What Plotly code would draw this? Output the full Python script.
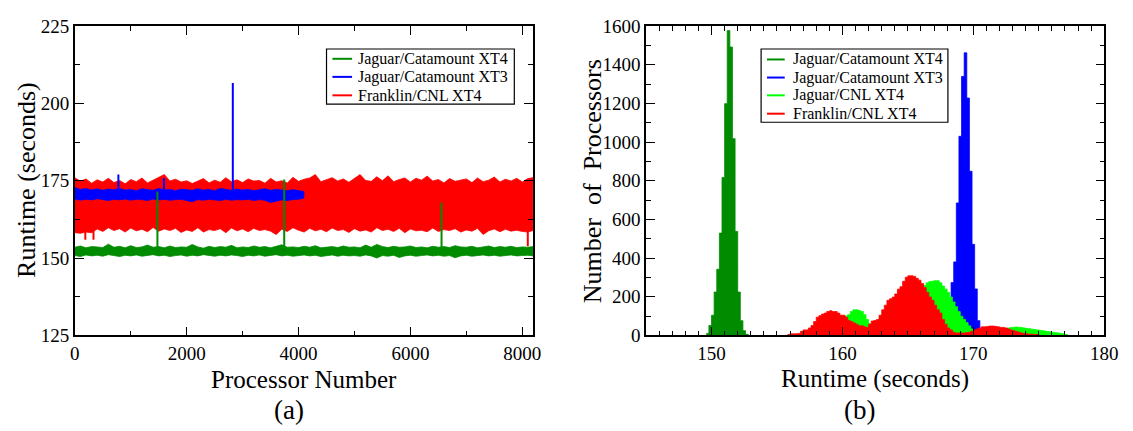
import plotly.graph_objects as go

# ---------------- Panel (a): runtime per processor ----------------
# per-block (100 processors) maximum / minimum runtime
proc_blocks = list(range(0, 8200, 100)) + [8191]
franklin_max = [
    176.0, 174.8, 175.6, 174.2, 175.3, 174.6, 175.8, 174.4, 175.1, 174.0,
    175.4, 174.7, 175.9, 174.3, 175.2, 176.2, 177.0, 174.9, 175.5, 174.6,
    175.0, 174.1, 174.8, 175.7, 174.3, 175.2, 174.5, 176.0, 174.7, 175.3,
    174.4, 175.6, 174.9, 175.1, 174.2, 175.8, 174.6, 175.0, 174.3, 176.1,
    174.8, 175.5, 175.9, 177.0, 174.7, 175.3, 176.0, 174.9, 175.6, 174.5,
    175.7, 177.0, 175.1, 174.8, 176.3, 175.0, 176.6, 174.7, 175.4, 175.9,
    174.6, 175.8, 175.2, 176.5, 174.9, 175.4, 174.3, 175.7, 174.8, 175.2,
    175.6, 174.4, 175.9, 174.7, 175.2, 176.2, 174.6, 175.5, 174.9, 175.8,
    174.6, 175.7, 176.0]
franklin_min = [
    158.2, 158.0, 158.4, 158.2, 159.4, 158.6, 159.8, 158.9, 159.5, 158.4,
    159.7, 158.8, 159.3, 158.5, 159.9, 158.7, 159.4, 158.9, 159.6, 158.3,
    159.1, 158.6, 159.8, 158.4, 159.2, 158.9, 159.5, 158.2, 159.7, 158.8,
    159.4, 158.5, 159.6, 158.9, 159.2, 158.7, 157.6, 159.3, 158.6, 159.8,
    159.0, 158.4, 159.6, 158.8, 159.3, 158.5, 159.7, 158.9, 159.2, 158.3,
    159.5, 158.7, 159.1, 158.4, 159.8, 158.9, 159.3, 158.6, 159.6, 158.2,
    159.4, 158.8, 159.0, 158.5, 159.7, 158.6, 159.2, 158.9, 159.5, 158.4,
    159.1, 158.7, 159.6, 157.6, 158.8, 159.4, 158.5, 159.3, 158.7, 159.0,
    158.6, 158.4, 158.9]
franklin_dip_proc = [188, 334, 8099]
franklin_dip_low = [155.9, 155.9, 153.8]

xt4_max = [
    153.5, 153.9, 153.3, 153.7, 153.6, 153.4, 154.5, 153.5, 153.8, 153.3,
    154.0, 153.4, 153.6, 154.2, 153.5, 153.7, 153.3, 153.9, 153.4, 153.6,
    153.5, 154.4, 153.6, 153.2, 153.8, 153.4, 153.7, 153.5, 154.1, 153.3,
    153.6, 153.4, 153.9, 153.5, 153.7, 153.3, 153.8, 154.3, 153.5, 153.6,
    153.4, 153.8, 153.5, 154.0, 153.3, 153.6, 153.7, 153.4, 153.9, 153.5,
    153.6, 153.3, 154.2, 153.5, 154.4, 153.7, 153.4, 153.8, 153.5, 153.6,
    153.9, 153.4, 153.6, 153.3, 153.8, 153.5, 153.7, 153.4, 154.0, 153.6,
    153.5, 153.8, 153.3, 153.6, 153.9, 153.4, 153.7, 153.5, 153.8, 153.4,
    153.6, 153.5, 153.7]
xt4_min = [
    150.8, 150.5, 151.0, 150.7, 150.9, 150.6, 151.1, 150.8, 150.5, 150.9,
    150.7, 151.0, 150.6, 150.8, 151.1, 150.7, 150.9, 150.5, 150.8, 151.0,
    150.6, 150.9, 150.7, 151.1, 150.8, 150.6, 150.9, 150.7, 151.0, 150.8,
    150.5, 150.9, 150.7, 151.0, 150.6, 150.8, 151.1, 150.7, 150.9, 150.6,
    150.8, 151.0, 150.7, 150.9, 150.5, 150.8, 151.0, 150.6, 150.9, 150.7,
    150.8, 150.6, 151.0, 150.7, 150.0, 150.8, 150.6, 150.9, 150.2, 150.7,
    150.9, 150.6, 150.8, 151.0, 150.7, 150.9, 150.6, 150.8, 150.1, 150.7,
    150.9, 150.6, 150.8, 151.0, 150.7, 150.9, 150.6, 150.8, 151.0, 150.7,
    150.8, 150.9, 150.7]
xt4_spike_proc = [1477, 3744, 6557]
xt4_spike_high = [171.5, 175.4, 167.9]

xt3_blocks = list(range(0, 4100, 100)) + [4095]
xt3_max = [
    172.8, 172.2, 172.5, 172.0, 172.4, 171.9, 172.3, 172.1, 172.5, 172.0,
    172.2, 171.8, 172.4, 172.1, 171.9, 172.5, 172.0, 172.2, 171.8, 172.3,
    172.1, 171.9, 172.4, 172.0, 172.2, 171.8, 172.5, 172.1, 171.9, 172.3,
    172.0, 172.2, 171.8, 172.1, 172.4, 171.9, 172.2, 172.0, 171.8, 172.1,
    171.9, 171.5]
xt3_min = [
    169.1, 168.7, 169.0, 168.8, 169.2, 168.9, 168.6, 169.0, 168.8, 169.1,
    168.7, 169.0, 168.9, 168.6, 169.1, 168.8, 169.0, 168.7, 168.9, 169.0,
    168.6, 168.2, 168.9, 168.7, 169.0, 168.8, 168.6, 169.0, 168.7, 168.9,
    168.8, 169.0, 168.6, 168.9, 168.7, 168.0, 168.3, 168.8, 168.6, 168.9,
    169.0, 169.4]
xt3_spike_proc = [779, 1594, 2825]
xt3_spike_high = [177.0, 175.9, 206.6]

# ---------------- Panel (b): histograms (bin width 0.2 s) ----------------
BIN = 0.2
cat_xt4_start = 149.6
cat_xt4_counts = [10, 51, 104, 224, 342, 529, 817, 1199, 1577, 1492, 1018, 538, 224, 76, 24, 5]
cat_xt3_start = 167.9
cat_xt3_counts = [60, 150, 273, 380, 685, 1030, 1340, 1462, 1228, 849, 471, 240, 76, 20, 5]
cnl_xt4_start = 157.6
cnl_xt4_counts = [
    8, 20, 35, 50, 62, 72, 80, 88, 92, 96, 100, 102, 98, 100, 107, 123, 132, 132, 128, 123,
    107, 82, 60, 52, 60, 72, 90, 105, 120, 135, 150, 165, 180, 195, 205, 215, 225, 232, 238, 242,
    246, 250, 254, 258, 272, 278, 280, 283, 283, 272, 255, 239, 222, 198, 173, 148, 123, 99, 82, 66,
    49, 33, 21, 18, 18, 20, 22, 24, 25, 26, 28, 30, 32, 34, 36, 38, 40, 42, 43, 42,
    40, 38, 35, 34, 32, 30, 28, 26, 24, 22, 20, 18, 16, 14, 12, 10, 8, 4]
franklin_start = 155.8
franklin_counts = [
    4, 8, 8, 8, 10, 21, 28, 28, 38, 51, 71, 94, 102, 110, 115, 123, 127, 123, 123, 115,
    104, 104, 94, 77, 71, 64, 58, 49, 49, 44, 41, 58, 74, 77, 82, 104, 132, 156, 181, 189,
    198, 214, 239, 252, 280, 301, 308, 308, 305, 295, 285, 268, 247, 222, 198, 181, 156, 132, 115, 82,
    58, 38, 28, 16, 12, 12, 12, 12, 14, 16, 21, 28, 33, 38, 44, 44, 46, 48, 48, 46,
    44, 41, 41, 38, 33, 28, 24, 20, 16, 12, 10, 8, 6, 6, 4, 4]

legend_a = ["Jaguar/Catamount XT4", "Jaguar/Catamount XT3", "Franklin/CNL XT4"]
legend_b = ["Jaguar/Catamount XT4", "Jaguar/Catamount XT3", "Jaguar/CNL XT4", "Franklin/CNL XT4"]

GREEN4 = "#008b00"
BLUE = "#0000ff"
RED = "#ff0000"
LIME = "#00ff00"
FONT = "Liberation Serif, Times New Roman, Times, serif"

fig = go.Figure()


def band(xs, hi, lo, color, name):
    fig.add_trace(go.Scatter(
        x=list(xs) + list(xs)[::-1], y=list(hi) + list(lo)[::-1],
        fill="toself", fillcolor=color, mode="lines", name=name,
        line=dict(color=color, width=0.8), showlegend=False,
        hoverinfo="skip", xaxis="x", yaxis="y"))


def spikes(px, ends, base, color, name):
    xs, ys = [], []
    for p, e in zip(px, ends):
        xs += [p, p, None]
        ys += [base, e, None]
    fig.add_trace(go.Scatter(x=xs, y=ys, mode="lines", name=name,
                             line=dict(color=color, width=2),
                             showlegend=False, hoverinfo="skip",
                             xaxis="x", yaxis="y"))


band(proc_blocks, franklin_max, franklin_min, RED, legend_a[2])
spikes(franklin_dip_proc, franklin_dip_low, 160.0, RED, legend_a[2])
band(xt3_blocks, xt3_max, xt3_min, BLUE, legend_a[1])
spikes(xt3_spike_proc, xt3_spike_high, 171.0, BLUE, legend_a[1])
band(proc_blocks, xt4_max, xt4_min, GREEN4, legend_a[0])
spikes(xt4_spike_proc, xt4_spike_high, 152.0, GREEN4, legend_a[0])


def hist(start, counts, color, name):
    xs = [start + BIN * i for i in range(len(counts) + 1)]
    ys = list(counts) + [0]
    fig.add_trace(go.Scatter(x=xs, y=ys, mode="lines", line_shape="hv", name=name,
                             fill="tozeroy", fillcolor=color,
                             line=dict(color=color, width=0.8),
                             showlegend=False, hoverinfo="skip",
                             xaxis="x2", yaxis="y2"))


hist(cat_xt4_start, cat_xt4_counts, GREEN4, legend_b[0])
hist(cat_xt3_start, cat_xt3_counts, BLUE, legend_b[1])
hist(cnl_xt4_start, cnl_xt4_counts, LIME, legend_b[2])
hist(franklin_start, franklin_counts, RED, legend_b[3])

W, H = 1133, 431
L1, R1 = 71, 537
L2, R2 = 652, 1118
TOP, BOT = 17, 342
ydom = [1 - BOT / H, 1 - TOP / H]

axis_common = dict(showline=True, linecolor="black", linewidth=1.5, mirror="ticks",
                   ticks="inside", ticklen=9, tickwidth=1.2, tickcolor="black",
                   showgrid=False, zeroline=False,
                   tickfont=dict(family=FONT, size=19, color="black"))
minor_common = dict(ticklen=5, ticks="inside", tickcolor="black", tickwidth=1)

fig.update_layout(
    width=W, height=H, margin=dict(l=0, r=0, t=0, b=0),
    paper_bgcolor="white", plot_bgcolor="white", showlegend=False,
    font=dict(family=FONT, color="black"),
    xaxis=dict(domain=[L1 / W, R1 / W], range=[0, 8192], tick0=0, dtick=2000,
               minor=dict(dtick=1000, **minor_common), anchor="y", **axis_common),
    yaxis=dict(domain=ydom, range=[125, 225], tick0=125, dtick=25,
               minor=dict(dtick=12.5, **minor_common), anchor="x", **axis_common),
    xaxis2=dict(domain=[L2 / W, R2 / W], range=[145, 180], tick0=150, dtick=10,
                minor=dict(tick0=145, dtick=1, **minor_common), anchor="y2", **axis_common),
    yaxis2=dict(domain=ydom, range=[0, 1600], tick0=0, dtick=200,
                minor=dict(dtick=100, **minor_common), anchor="x2", **axis_common),
)


# ---- legends drawn as boxed line samples + text (pixel layout) ----
def px_x(v):
    return v / W


def px_y(v):
    return 1 - v / H


def draw_legend(box, line_x, text_x, rows, names, colors):
    x0, x1, y0, y1 = box
    fig.add_shape(type="rect", xref="paper", yref="paper",
                  x0=px_x(x0), x1=px_x(x1), y0=px_y(y1), y1=px_y(y0),
                  line=dict(color="black", width=1.2), fillcolor="white", layer="above")
    for yy, nm, col in zip(rows, names, colors):
        fig.add_shape(type="line", xref="paper", yref="paper",
                      x0=px_x(line_x[0]), x1=px_x(line_x[1]), y0=px_y(yy), y1=px_y(yy),
                      line=dict(color=col, width=2), layer="above")
        fig.add_annotation(text=nm, x=px_x(text_x), y=px_y(yy), xref="paper", yref="paper",
                           xanchor="left", yanchor="middle", showarrow=False,
                           font=dict(family=FONT, size=16, color="black"))


draw_legend((327, 518, 41, 99), (333, 353), 357, [51.3, 70.3, 89.7],
            legend_a, [GREEN4, BLUE, RED])
draw_legend((769, 959, 41, 118), (775, 793), 799, [52, 71, 89.7, 109],
            legend_b, [GREEN4, BLUE, LIME, RED])

ann = [
    dict(text="Processor Number", x=(L1 + R1) / 2, y=388, size=25, angle=0),
    dict(text="Runtime (seconds)", x=(L2 + R2) / 2, y=388, size=25, angle=0),
    dict(text="Runtime (seconds)", x=22, y=179, size=26, angle=-90),
    dict(text="Number\u00a0\u00a0of\u00a0\u00a0Processors", x=597, y=180, size=26, angle=-90),
    dict(text="(a)", x=289, y=420, size=27, angle=0),
    dict(text="(b)", x=869, y=420, size=27, angle=0),
]
for a in ann:
    fig.add_annotation(text=a["text"], x=px_x(a["x"]), y=px_y(a["y"]), xref="paper", yref="paper",
                       xanchor="center", yanchor="middle", showarrow=False,
                       textangle=a["angle"],
                       font=dict(family=FONT, size=a["size"], color="black"))

fig.write_html("out.html")
